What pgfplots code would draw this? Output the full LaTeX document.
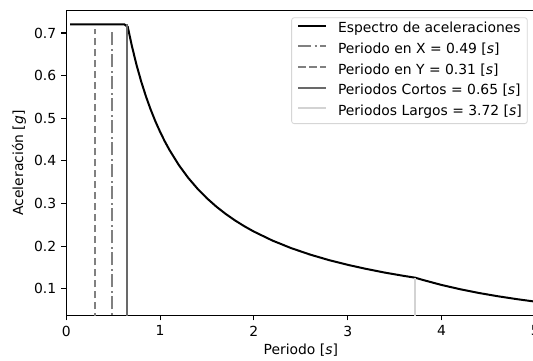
\documentclass[border=0pt]{standalone}
\usepackage{fontspec}
\setmainfont{DejaVu Sans}
\usepackage{pgfplots}
\pgfplotsset{compat=1.18}

\definecolor{periodX}{HTML}{808080}
\definecolor{periodY}{HTML}{808080}
\definecolor{cortos}{HTML}{696969}
\definecolor{largos}{HTML}{D3D3D3}
\definecolor{legendframe}{HTML}{D6D6D6}

\begin{document}
\begin{tikzpicture}
\path[use as bounding box] (-66.3pt,-44.5pt) rectangle (466.7pt,315.5pt);
\begin{axis}[
  at={(0pt,0pt)}, anchor=south west,
  scale only axis, width=469pt, height=304.9pt,
  font=\fontsize{13.9pt}{16.2pt}\selectfont,
  xmin=0, xmax=5, ymin=0.0371, ymax=0.7525,
  xtick={0,1,2,3,4,5},
  ytick={0.1,0.2,0.3,0.4,0.5,0.6,0.7},
  xtick pos=lower, ytick pos=left,
  tick align=outside, major tick length=4.9pt,
  every tick/.style={black, line width=1.1pt},
  axis line style={line width=1.1pt},
  /pgf/number format/assume math mode=true,
  yticklabel style={/pgf/number format/fixed, /pgf/number format/fixed zerofill,
    /pgf/number format/precision=1, anchor=east, inner sep=0pt, xshift=-5pt},
  xticklabel style={anchor=north, inner sep=0pt, yshift=-5.2pt},
  xlabel={Periodo [\textit{s}]},
  ylabel={Aceleración [\textit{g}]},
  every axis x label/.style={at={(rel axis cs:0.5,0)}, anchor=base, yshift=-38.8pt},
  every axis y label/.style={at={(axis description cs:-0.1009,0.5)}, rotate=90, anchor=center},
  legend style={at={(rel axis cs:1,1)}, anchor=north east, xshift=-7.6pt, yshift=-6.7pt,
    draw=legendframe, line width=0.8pt, rounded corners=2.5pt, fill=white,
    inner xsep=5.5pt, inner ysep=5pt, row sep=7.1pt,
    nodes={inner sep=0pt, text height=10.2pt, text depth=3.3pt},
    /tikz/every odd column/.append style={column sep=11.1pt}},
  legend cell align=left,
  legend image code/.code={\draw[#1] (0pt,3.6pt) -- (27.8pt,3.6pt);},
]
% response spectrum: plateau, 1/T branch, 1/T^2 branch
\addplot[black, line width=2pt] coordinates {
  (0.04,0.72) (0.62,0.72) (0.655,0.7145) (0.7,0.6686) (0.75,0.624)
  (0.8,0.585) (0.85,0.5506) (0.9,0.52) (0.95,0.4926) (1.0,0.468)
  (1.05,0.4457) (1.1,0.4255) (1.2,0.39) (1.3,0.36) (1.4,0.3343)
  (1.5,0.312) (1.6,0.2925) (1.7,0.2753) (1.8,0.26) (1.9,0.2463)
  (2.0,0.234) (2.2,0.2127) (2.4,0.195) (2.6,0.18) (2.8,0.1671)
  (3.0,0.156) (3.2,0.1463) (3.4,0.1376) (3.6,0.13) (3.72,0.1258)
  (3.8,0.1206) (4.0,0.1088) (4.2,0.0987) (4.4,0.0899) (4.6,0.0823)
  (4.8,0.0756) (5.0,0.0696)
};
\addlegendentry{Espectro de aceleraciones}
\addplot[periodX, line width=2pt, dash pattern=on 13.3pt off 3.3pt on 2.1pt off 3.3pt]
  coordinates {(0.49,0) (0.49,0.71)};
\addlegendentry{Periodo en X = 0.49 [\textit{s}]}
\addplot[periodY, line width=2pt, dash pattern=on 7.7pt off 3.3pt]
  coordinates {(0.31,0) (0.31,0.71)};
\addlegendentry{Periodo en Y = 0.31 [\textit{s}]}
\addplot[cortos, line width=2pt] coordinates {(0.65,0) (0.65,0.72)};
\addlegendentry{Periodos Cortos = 0.65 [\textit{s}]}
\addplot[largos, line width=2pt] coordinates {(3.72,0) (3.72,0.1258)};
\addlegendentry{Periodos Largos = 3.72 [\textit{s}]}
\end{axis}
\end{tikzpicture}
\end{document}
